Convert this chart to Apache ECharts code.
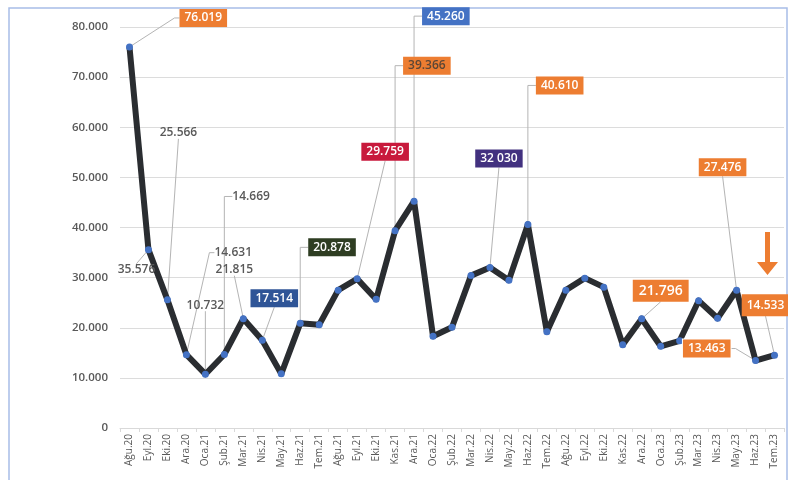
<!DOCTYPE html>
<html>
<head>
<meta charset="utf-8">
<script src="https://cdn.jsdelivr.net/npm/echarts@6/dist/echarts.min.js"></script>
<style>
  html, body { margin: 0; padding: 0; background: #fff; }
  #chart { width: 788px; height: 480px; }
</style>
</head>
<body>
<div id="chart"></div>
<script>
// aylar (Kas.20 yok, kaynakta da yok)
var months = ['Ağu.20','Eyl.20','Eki.20','Ara.20',
  'Oca.21','Şub.21','Mar.21','Nis.21','May.21','Haz.21','Tem.21','Ağu.21','Eyl.21','Eki.21','Kas.21','Ara.21',
  'Oca.22','Şub.22','Mar.22','Nis.22','May.22','Haz.22','Tem.22','Ağu.22','Eyl.22','Eki.22','Kas.22','Ara.22',
  'Oca.23','Şub.23','Mar.23','Nis.23','May.23','Haz.23','Tem.23'];

var values = [76019, 35576, 25566, 14631,
  10732, 14669, 21815, 17514, 10800, 20878, 20600, 27500, 29759, 25700, 39366, 45260,
  18300, 20100, 30400, 32030, 29500, 40610, 19200, 27500, 29900, 28100, 16600, 21796,
  16300, 17400, 25400, 21900, 27476, 13463, 14533];

var yTicks = [0, 10000, 20000, 30000, 40000, 50000, 60000, 70000, 80000];

// etiketli noktalar
var calloutIndex = [0, 1, 2, 3, 4, 5, 6, 7, 9, 12, 14, 15, 19, 21, 27, 32, 33, 34];
var calloutText = ['76.019', '35.576', '25.566', '14.631', '10.732', '14.669', '21.815', '17.514', '20.878',
  '29.759', '39.366', '45.260', '32 030', '40.610', '21.796', '27.476', '13.463', '14.533'];

// etiket yerleşimi: noktaya göre kayma, hizalama, kutu rengi
var ORANGE = '#ED7D31';
var calloutLook = [
  { dx: 50, dy: -29, align: 'left', va: 'middle', bend: 'h', bg: ORANGE },
  { dx: -12, dy: 14, align: 'center', va: 'top', bend: '', bg: null },
  { dx: 11, dy: -161, align: 'center', va: 'bottom', bend: '', bg: null },
  { dx: 28, dy: -102, align: 'left', va: 'middle', bend: 'h', bg: null },
  { dx: 0, dy: -63, align: 'center', va: 'bottom', bend: '', bg: null },
  { dx: 8, dy: -158, align: 'left', va: 'middle', bend: 'v', bg: null },
  { dx: -9, dy: -43, align: 'center', va: 'bottom', bend: '', bg: null },
  { dx: 12, dy: -33, align: 'center', va: 'bottom', bend: '', bg: '#2F5597' },
  { dx: 8, dy: -76, align: 'left', va: 'middle', bend: 'v', bg: '#2E3D22' },
  { dx: 28, dy: -118, align: 'center', va: 'bottom', bend: '', bg: '#C8193C' },
  { dx: 8, dy: -165, align: 'left', va: 'middle', bend: 'v', bg: ORANGE, color: '#5b4636' },
  { dx: 8, dy: -185, align: 'left', va: 'middle', bend: 'v', bg: '#4472C4' },
  { dx: 9, dy: -100, align: 'center', va: 'bottom', bend: '', bg: '#42317F' },
  { dx: 8, dy: -139, align: 'left', va: 'middle', bend: 'v', bg: ORANGE },
  { dx: 19, dy: -17, align: 'center', va: 'bottom', bend: '', bg: ORANGE, size: 14 },
  { dx: -14, dy: -114, align: 'center', va: 'bottom', bend: '', bg: ORANGE },
  { dx: -25, dy: -12, align: 'right', va: 'middle', bend: 'h', bg: ORANGE, border: true },
  { dx: -9, dy: -39, align: 'center', va: 'bottom', bend: '', bg: ORANGE, tall: true }
];

var FONT = '"Open Sans", "Noto Sans", sans-serif';

function dots(v) {
  return String(v).replace(/\B(?=(\d{3})+(?!\d))/g, '.');
}

var calloutData = calloutIndex.map(function (i) { return [i, values[i]]; });

function anchorOf(params, api) {
  var c = calloutLook[params.dataIndex];
  var p = api.coord([api.value(0), api.value(1)]);
  return { p: p, a: [p[0] + c.dx, p[1] + c.dy], c: c };
}

function renderLeader(params, api) {
  var r = anchorOf(params, api);
  var p = r.p, a = r.a, c = r.c;
  var pts;
  if (c.bend === 'v') {
    pts = [p, [p[0], a[1]], a];
  } else if (c.bend === 'h') {
    var s = c.align === 'right' ? 5 : -5;
    pts = [p, [a[0] + s, a[1]], a];
  } else {
    pts = [p, a];
  }
  return {
    type: 'polyline',
    shape: { points: pts },
    style: { stroke: '#b4b4b4', lineWidth: 1, fill: null }
  };
}

function renderLabel(params, api) {
  var r = anchorOf(params, api);
  var c = r.c;
  var size = c.size || 12;
  var style = {
    text: calloutText[params.dataIndex],
    font: '600 ' + size + 'px ' + FONT,
    align: c.align,
    verticalAlign: c.va,
    fill: c.bg ? (c.color || '#ffffff') : '#595959'
  };
  if (c.bg) {
    style.backgroundColor = c.bg;
    style.padding = c.tall ? [4, 5, 4, 5] : (c.size ? [3, 6, 3, 6] : [2, 5, 2, 5]);
    style.lineHeight = size + 2;
    if (c.border) {
      style.borderColor = '#ffffff';
      style.borderWidth = 1;
    }
  }
  return { type: 'text', x: r.a[0], y: r.a[1], style: style };
}

var chart = echarts.init(document.getElementById('chart'));

var option = {
  animation: false,
  backgroundColor: '#ffffff',
  textStyle: { fontFamily: FONT },
  grid: { left: 120, right: 4, top: 27, bottom: 52, containLabel: false },
  graphic: [
    {
      type: 'rect',
      shape: { x: 9, y: 8, width: 778, height: 490 },
      style: { fill: null, stroke: '#a8bde8', lineWidth: 1.5 },
      silent: true
    },
    {
      // turuncu aşağı ok
      type: 'polygon',
      shape: { points: [[765, 232], [770, 232], [770, 262], [778, 262], [767.5, 275], [757, 262], [765, 262]] },
      style: { fill: ORANGE },
      silent: true
    }
  ],
  xAxis: {
    type: 'category',
    data: months,
    boundaryGap: true,
    axisLine: { lineStyle: { color: '#d9d9d9' } },
    axisTick: { show: true, length: 4, lineStyle: { color: '#d9d9d9' } },
    axisLabel: { interval: 0, rotate: 90, fontSize: 10, color: '#595959', margin: 6, fontFamily: FONT }
  },
  yAxis: {
    type: 'value',
    min: yTicks[0],
    max: yTicks[yTicks.length - 1],
    interval: yTicks[1] - yTicks[0],
    axisLine: { show: false },
    axisTick: { show: false },
    splitLine: { lineStyle: { color: '#dcdcdc' } },
    axisLabel: { color: '#595959', fontSize: 11.5, fontWeight: 600, margin: 12, formatter: dots, fontFamily: FONT }
  },
  series: [
    {
      type: 'custom',
      z: 1,
      silent: true,
      renderItem: renderLeader,
      data: calloutData
    },
    {
      type: 'line',
      z: 2,
      data: values,
      lineStyle: { color: '#2a2d31', width: 6, join: 'round' },
      itemStyle: { color: '#4472C4' },
      symbol: 'circle',
      symbolSize: 7,
      showSymbol: true,
      label: { show: false }
    },
    {
      type: 'custom',
      z: 3,
      silent: true,
      renderItem: renderLabel,
      data: calloutData
    }
  ]
};

chart.setOption(option);
window.onresize = function () {
  chart.resize();
};
</script>
</body>
</html>
